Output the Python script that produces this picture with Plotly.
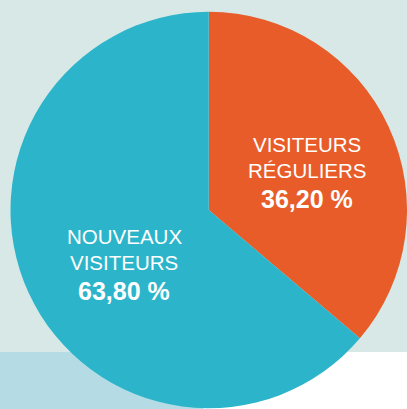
import plotly.graph_objects as go

# Data
categories = ["VISITEURS RÉGULIERS", "NOUVEAUX VISITEURS"]
label_lines = [["VISITEURS", "RÉGULIERS"], ["NOUVEAUX", "VISITEURS"]]
values = [36.20, 63.80]
value_labels = ["36,20 %", "63,80 %"]
colors = ["#e85c2a", "#2cb5ca"]

W, H = 407, 409

fig = go.Figure(go.Pie(
    labels=categories,
    values=values,
    sort=False,
    direction="clockwise",
    rotation=0,
    marker=dict(colors=colors, line=dict(width=0)),
    textinfo="none",
    hoverinfo="none",
    showlegend=False,
    domain=dict(x=[0.0258, 1.0], y=[0.0, 0.973]),
))

# label layout (pixel centres of each text line, from top-left)
label_pos = [
    (307, [144.5, 170.0], 199.0),
    (124, [237.0, 262.0], 291.0),
]

annotations = []
for (cx, line_ys, val_y), lines, vlab in zip(label_pos, label_lines, value_labels):
    for txt, ly in zip(lines, line_ys):
        annotations.append(dict(
            x=cx / W, y=1 - ly / H, xref="paper", yref="paper",
            text=txt, showarrow=False, xanchor="center", yanchor="middle",
            font=dict(family="Liberation Sans, Arial, sans-serif", size=20.5, color="white"),
        ))
    annotations.append(dict(
        x=cx / W, y=1 - val_y / H, xref="paper", yref="paper",
        text="<b>" + vlab + "</b>", showarrow=False, xanchor="center", yanchor="middle",
        font=dict(family="Liberation Sans, Arial, sans-serif", size=25, color="white"),
    ))

band_top = 1 - 352 / H
shapes = [
    dict(type="rect", xref="paper", yref="paper", x0=0, x1=0.5, y0=0, y1=band_top,
         fillcolor="#b5dbe5", line=dict(width=0), layer="below"),
    dict(type="rect", xref="paper", yref="paper", x0=0.5, x1=1, y0=0, y1=band_top,
         fillcolor="#ffffff", line=dict(width=0), layer="below"),
]

fig.update_layout(
    width=W, height=H,
    margin=dict(l=0, r=0, t=0, b=0),
    paper_bgcolor="#d7e8e6",
    plot_bgcolor="#d7e8e6",
    annotations=annotations,
    shapes=shapes,
)

fig.write_html(
    "out.html",
    config={"displayModeBar": False},
    post_script="document.body.style.margin='0';document.body.style.overflow='hidden';",
)
